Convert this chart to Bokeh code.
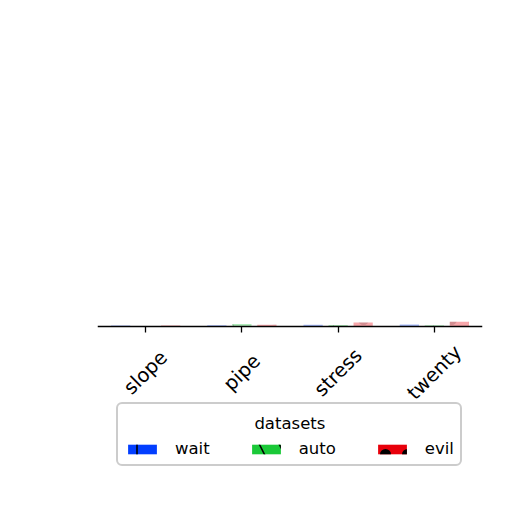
import math
from bokeh.plotting import figure
from bokeh.models import (FactorRange, Range1d, Legend, LegendItem, LabelSet,
                          ColumnDataSource, CustomJSTickFormatter)
from bokeh.core.properties import value
from bokeh.transform import dodge
from bokeh.embed import file_html
from bokeh.resources import INLINE

categories = ["slope", "pipe", "stress", "twenty"]
series = ["wait", "auto", "evil"]
wait_vals = [0.3, 0.4, 0.6, 0.7]
auto_vals = [0.2, 0.8, 0.5, 0.4]
evil_vals = [0.3, 0.6, 1.3, 1.6]
colors = ["#023eff", "#1ac938", "#e8000b"]
hatches = ["vertical_line", "left_diagonal_line", "dot"]
hatch_scales = [24, 40, 22]
legend_title = "datasets"

p = figure(x_range=FactorRange(*categories, range_padding=0.0),
           y_range=Range1d(-47.7, 100),
           width=496, height=496, output_backend="svg", toolbar_location=None,
           min_border_left=97, min_border_right=14, min_border_top=20, min_border_bottom=24)
p.outline_line_color = None
p.background_fill_color = "white"
p.border_fill_color = "white"
p.xgrid.visible = False
p.ygrid.visible = False
p.yaxis.visible = False

data = ColumnDataSource(dict(cat=categories, wait=wait_vals, auto=auto_vals, evil=evil_vals,
                             zero=[0] * len(categories)))
offsets = [-0.26, 0.0, 0.26]
items = []
for s, c, h, hs, off in zip(series, colors, hatches, hatch_scales, offsets):
    # faint bars in the plot area
    p.vbar(x=dodge("cat", off, range=p.x_range), top=s, bottom=0, width=0.2,
           source=data, fill_color=c, fill_alpha=0.35, line_color=None,
           hatch_pattern=h, hatch_color="black", hatch_alpha=0.15, hatch_scale=hs)
    # legend swatch renderer (zero width, so nothing drawn in the plot)
    r = p.vbar(x=dodge("cat", off, range=p.x_range), top=s, bottom=0, width=0.0,
               source=data, fill_color=c, line_color=None,
               hatch_pattern=h, hatch_color="black", hatch_scale=hs, hatch_weight=1.6)
    items.append(LegendItem(label=s, renderers=[r]))

ax = p.xaxis[0]
ax.fixed_location = 0
ax.axis_line_color = "black"
ax.axis_line_width = 1.3
ax.major_tick_line_color = "black"
ax.major_tick_line_width = 1.3
ax.major_tick_in = 0
ax.major_tick_out = 6
ax.minor_tick_line_color = None
ax.formatter = CustomJSTickFormatter(code="return '';")

tick_labels = LabelSet(x="cat", y="zero", text="cat", source=data, angle=math.pi / 4,
                       y_offset=-46, text_align="center", text_baseline="middle",
                       text_font=value("DejaVu Sans"), text_font_size=value("19.5px"),
                       text_color="black")
p.add_layout(tick_labels)

title_src = ColumnDataSource(dict(cat=[categories[1]], zero=[0], text=[legend_title]))
title_label = LabelSet(x="cat", y="zero", text="text", source=title_src,
                       x_offset=48, y_offset=-97, text_align="center", text_baseline="middle",
                       text_font=value("DejaVu Sans"), text_font_size=value("16.5px"),
                       text_color="black")
p.add_layout(title_label)

legend = Legend(items=items, orientation="horizontal", location=(19, 6),
                title=" ", title_text_font="DejaVu Sans", title_text_font_size="16.5px",
                title_standoff=10,
                label_text_font="DejaVu Sans", label_text_font_size="16.5px",
                label_text_color="black",
                glyph_width=36, glyph_height=12, label_standoff=15, spacing=38,
                padding=6, margin=0, border_line_color="#cccccc", border_line_width=2,
                border_line_alpha=1.0, background_fill_alpha=0.0)
if "border_radius" in Legend.properties():
    legend.border_radius = 6
p.add_layout(legend, "center")

open("out.html", "w").write(file_html(p, INLINE))
